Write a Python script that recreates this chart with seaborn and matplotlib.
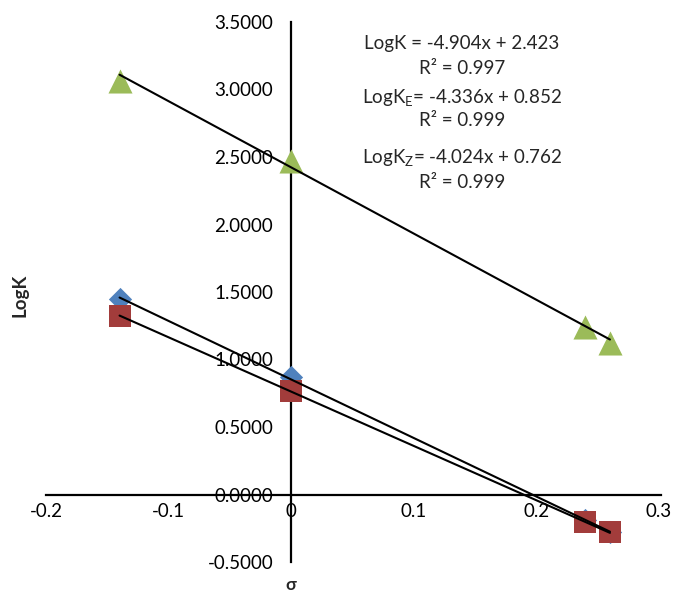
import numpy as np
import pandas as pd
import matplotlib
matplotlib.use("Agg")
import matplotlib.pyplot as plt
import seaborn as sns

# ---- data ----
sigma = [-0.14, 0.0, 0.24, 0.26]
logk = [3.06, 2.47, 1.24, 1.12]        # triangles (LogK)
logk_e = [1.45, 0.87, -0.19, -0.275]   # diamonds (LogK_E)
logk_z = [1.32, 0.77, -0.20, -0.28]    # squares (LogK_Z)

series_names = ["LogK_E", "LogK_Z", "LogK"]
slopes = [-4.336, -4.024, -4.904]
intercepts = [0.852, 0.762, 2.423]
r2_values = [0.999, 0.999, 0.997]

x_ticks = [-0.2, -0.1, 0.0, 0.1, 0.2, 0.3]
x_tick_labels = ["-0.2", "-0.1", "0", "0.1", "0.2", "0.3"]
y_ticks = [-0.5, 0.0, 0.5, 1.0, 1.5, 2.0, 2.5, 3.0, 3.5]

sns.set_style("white")
plt.rcParams["font.family"] = ["Lato", "DejaVu Sans"]
plt.rcParams["mathtext.fontset"] = "custom"
plt.rcParams["mathtext.rm"] = "Lato"
plt.rcParams["mathtext.it"] = "Lato:italic"

df = pd.DataFrame({
    "sigma": sigma * 3,
    "value": logk_e + logk_z + logk,
    "series": [series_names[0]] * 4 + [series_names[1]] * 4 + [series_names[2]] * 4,
})

fig = plt.figure(figsize=(6.77, 5.94), dpi=100)
ax = fig.add_axes([46 / 677, 1 - 562 / 594, (659 - 46) / 677, (562 - 22) / 594])

palette = {"LogK_E": "#4F81BD", "LogK_Z": "#A23C3B", "LogK": "#9BBB59"}
markers = {"LogK_E": "D", "LogK_Z": "s", "LogK": "^"}
sizes_map = {"LogK_E": 140, "LogK_Z": 270, "LogK": 300}

for name in series_names:
    sub = df[df["series"] == name]
    sns.scatterplot(data=sub, x="sigma", y="value", color=palette[name],
                    marker=markers[name], s=sizes_map[name], linewidth=0,
                    ax=ax, legend=False, zorder=3)

# trendlines
xs = np.array([min(sigma), max(sigma)])
for m, b in zip(slopes, intercepts):
    ax.plot(xs, m * xs + b, color="black", lw=1.5, zorder=4)

ax.set_xlim(-0.2, 0.3)
ax.set_ylim(-0.5, 3.5)
ax.set_xticks(x_ticks)
ax.set_xticklabels(x_tick_labels)
ax.set_yticks(y_ticks)
ax.set_yticklabels([f"{v:.4f}" for v in y_ticks])

for side in ["top", "right"]:
    ax.spines[side].set_visible(False)
ax.spines["left"].set_position(("data", 0))
ax.spines["bottom"].set_position(("data", 0))
ax.spines["bottom"].set_bounds(-0.2, 0.302)
for side in ["left", "bottom"]:
    ax.spines[side].set_color("black")
    ax.spines[side].set_linewidth(1.6)
ax.tick_params(axis="both", length=0, labelsize=13.5, colors="black")
ax.tick_params(axis="y", pad=13)
ax.tick_params(axis="x", pad=6)
ax.set_facecolor("white")

ax.set_xlabel("σ", fontsize=12.5, fontweight="bold")
ax.xaxis.set_label_coords((291 - 46) / 613, (562 - 585) / 540)
ax.xaxis.label.set_va("center")
ax.set_ylabel("LogK", fontsize=13.5, fontweight="bold")
ax.yaxis.set_label_coords(-0.042, (562 - 295) / 540)
ax.yaxis.label.set_va("center")

# equation annotations
eq_lines = [
    (f"LogK = {slopes[2]}x + {intercepts[2]}", 43),
    (f"R² = {r2_values[2]}", 68),
    (rf"LogK$_{{\mathrm{{E}}}}$= {slopes[0]}x + {intercepts[0]}", 97),
    (f"R² = {r2_values[0]}", 121),
    (rf"LogK$_{{\mathrm{{Z}}}}$= {slopes[1]}x + {intercepts[1]}", 158),
    (f"R² = {r2_values[1]}", 182),
]
for txt, py in eq_lines:
    fig.text(462 / 677, 1 - py / 594, txt, ha="center", va="center", fontsize=13.5)

fig.savefig("out.png", dpi=100, facecolor="white")
